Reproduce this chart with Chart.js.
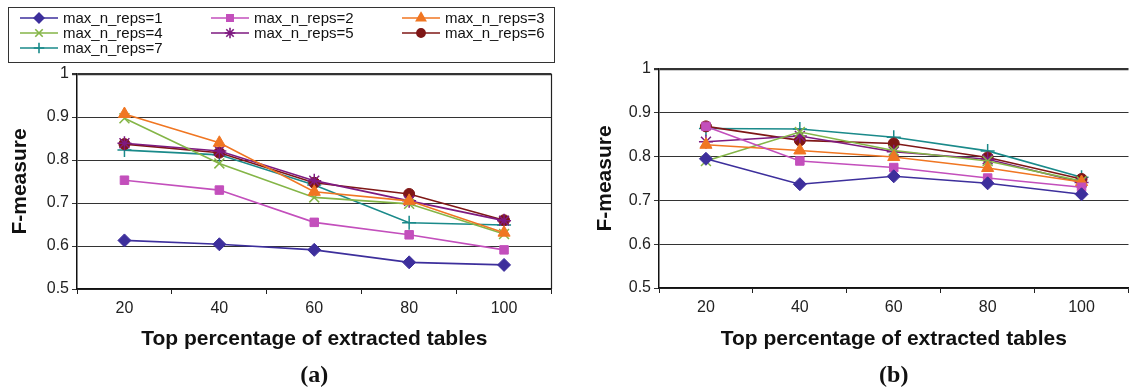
<!DOCTYPE html>
<html><head><meta charset="utf-8">
<script src="https://cdn.jsdelivr.net/npm/chart.js@4/dist/chart.umd.min.js"></script>
<style>
html,body{margin:0;padding:0;background:#fff;width:1137px;height:391px;overflow:hidden;}
.wrap{position:absolute;top:0;height:391px;}
</style></head>
<body>
<div class="wrap" style="left:0;width:560px;"><canvas id="ca"></canvas></div>
<div class="wrap" style="left:585px;width:552px;"><canvas id="cb"></canvas></div>
<script>
const categories = ['20','40','60','80','100'];
const seriesNames = ['max_n_reps=1','max_n_reps=2','max_n_reps=3','max_n_reps=4','max_n_reps=5','max_n_reps=6','max_n_reps=7'];
const yTickLabels = {0.5:'0.5',0.6:'0.6',0.7:'0.7',0.8:'0.8',0.9:'0.9',1:'1'};

// Chart (a)
const a1 = [0.613, 0.604, 0.591, 0.562, 0.556];
const a2 = [0.753, 0.730, 0.655, 0.626, 0.591];
const a3 = [0.907, 0.840, 0.726, 0.705, 0.631];
const a4 = [0.897, 0.792, 0.713, 0.698, 0.628];
const a5 = [0.839, 0.821, 0.752, 0.705, 0.659];
const a6 = [0.837, 0.817, 0.747, 0.721, 0.660];
const a7 = [0.823, 0.812, 0.742, 0.654, 0.649];

// Chart (b)
const b1 = [0.795, 0.737, 0.755, 0.739, 0.714];
const b2 = [0.869, 0.790, 0.775, 0.751, 0.730];
const b3 = [0.827, 0.814, 0.799, 0.774, 0.742];
const b4 = [0.790, 0.856, 0.814, 0.790, 0.744];
const b5 = [0.834, 0.847, 0.811, 0.794, 0.741];
const b6 = [0.869, 0.837, 0.830, 0.798, 0.749];
const b7 = [0.864, 0.863, 0.844, 0.813, 0.753];

const colors = ['#3d2f9c','#c34fbc','#f07622','#84b547','#7e1a80','#7f1716','#1a8a8a'];
const styles = [
  {pointStyle:'rectRot', radius:6.5, borderWidth:1},
  {pointStyle:'rect', radius:6, borderWidth:1},
  {pointStyle:'triangle', radius:7, borderWidth:1},
  {pointStyle:'crossRot', radius:7, borderWidth:1.5},
  {pointStyle:'star', radius:7, borderWidth:1.5},
  {pointStyle:'circle', radius:5.5, borderWidth:1},
  {pointStyle:'cross', radius:7, borderWidth:1.5}
];

const FONT = "'Liberation Sans', Arial, sans-serif";
Chart.defaults.font.family = FONT;
Chart.defaults.color = '#222';

function makeDatasets(arrs){
  return arrs.map((d,i)=>({
    label: seriesNames[i], data: d,
    borderColor: colors[i], backgroundColor: colors[i],
    borderWidth: 1.6, pointStyle: styles[i].pointStyle,
    pointRadius: styles[i].radius, pointBorderWidth: styles[i].borderWidth,
    pointBackgroundColor: colors[i], pointBorderColor: colors[i],
    tension: 0
  }));
}

const legendPlugin = {
  id:'customLegend',
  afterDraw(chart, args, opts){
    if(!opts.show) return;
    const ctx = chart.ctx;
    ctx.save();
    ctx.strokeStyle = '#333'; ctx.lineWidth = 1;
    ctx.strokeRect(8.5, 7.5, 546, 55);
    ctx.font = '15px ' + FONT;
    ctx.textBaseline = 'middle';
    seriesNames.forEach((name,i)=>{
      const col = i % 3, row = Math.floor(i/3);
      const x0 = 20 + col*191, x1 = x0 + 38, y = 18 + row*15;
      ctx.strokeStyle = colors[i]; ctx.lineWidth = 1.6;
      ctx.beginPath(); ctx.moveTo(x0, y); ctx.lineTo(x1, y); ctx.stroke();
      ctx.fillStyle = colors[i]; ctx.strokeStyle = colors[i];
      Chart.helpers.drawPoint(ctx, {pointStyle: styles[i].pointStyle, radius: styles[i].radius*0.75, borderWidth: styles[i].borderWidth, rotation:0}, (x0+x1)/2, y);
      ctx.fillStyle = '#111';
      ctx.fillText(name, x1 + 5, y + 1);
    });
    ctx.restore();
  }
};

const framePlugin = {
  id:'frame',
  afterDraw(chart, args, opts){
    const a = chart.chartArea, ctx = chart.ctx;
    ctx.save();
    if(opts.right){
      ctx.strokeStyle = '#222'; ctx.lineWidth = 1.2;
      ctx.beginPath(); ctx.moveTo(a.right, a.top); ctx.lineTo(a.right, a.bottom); ctx.stroke();
    }
    ctx.fillStyle = '#111';
    ctx.font = "bold 24px 'Liberation Serif', 'Times New Roman', serif";
    ctx.textAlign = 'center'; ctx.textBaseline = 'middle';
    ctx.fillText(opts.caption, (a.left + a.right)/2 + opts.capDx, 376);
    ctx.restore();
  }
};

function makeChart(id, arrs, cfg){
  return new Chart(document.getElementById(id), {
    type:'line',
    data:{labels: categories, datasets: makeDatasets(arrs)},
    plugins:[legendPlugin, framePlugin],
    options:{
      responsive:false, animation:false, devicePixelRatio:1,
      layout:{padding:{top:cfg.top, left:0, right:cfg.right, bottom:0}},
      plugins:{legend:{display:false}, tooltip:{enabled:false},
        customLegend:{show:cfg.legend}, frame:{right:cfg.frameRight, caption:cfg.caption, capDx:cfg.capDx}},
      scales:{
        x:{
          offset:true,
          grid:{display:true, drawOnChartArea:false, drawTicks:true, tickLength:5, offset:true, color:'#222', lineWidth:1},
          border:{display:true, color:'#111', width:1.5},
          ticks:{font:{size:16}, color:'#222', padding:5, maxRotation:0},
          title:{display:true, text:'Top percentage of extracted tables', font:{size:21, weight:'bold'}, color:'#111', padding:{top:0, bottom:39}},
          afterFit(s){ s.height = cfg.xh; }
        },
        y:{
          min:0.5, max:1,
          ticks:{stepSize:0.1, font:{size:16}, color:'#222', padding:3,
            callback:(v)=>{ const k = Math.round(v*10)/10; return yTickLabels[k] !== undefined ? yTickLabels[k] : ''; }},
          grid:{color:'#333', tickLength:5, lineWidth:(c)=> (c.tick && c.tick.value===1) ? 2.2 : 1},
          border:{display:true, color:'#111', width:1.5},
          title:{display:true, text:'F-measure', font:{size:21, weight:'bold'}, color:'#111', padding:{top:8, bottom:0}},
          afterFit(s){ s.width = cfg.yw; }
        }
      }
    }
  });
}

const ca = document.getElementById('ca'); ca.width = 560; ca.height = 391;
const cb = document.getElementById('cb'); cb.width = 552; cb.height = 391;

makeChart('ca', [a1,a2,a3,a4,a5,a6,a7], {top:74, right:4, xh:102, yw:77, legend:true, frameRight:true, caption:'(a)', capDx:0});
makeChart('cb', [b1,b2,b3,b4,b5,b6,b7], {top:69, right:0, xh:103, yw:74, legend:false, frameRight:false, caption:'(b)', capDx:0});
</script>
</body></html>
